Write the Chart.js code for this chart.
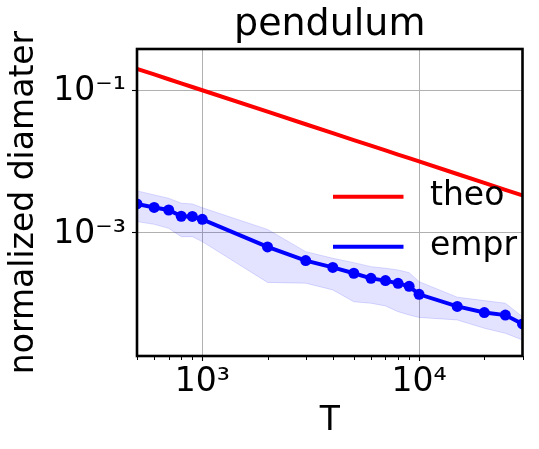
<!DOCTYPE html>
<html><head><meta charset="utf-8">
<script src="https://cdn.jsdelivr.net/npm/chart.js@4.4.1/dist/chart.umd.min.js"></script>
<style>html,body{margin:0;padding:0;background:#fff;}</style>
</head><body>
<canvas id="c" width="539" height="449"></canvas>
<script>
// ---- data ----
const T = [500, 600, 700, 800, 900, 1000, 2000, 3000, 4000, 5000, 6000, 7000, 8000, 9000, 10000, 15000, 20000, 25000, 30000];
const theo = [0.2, 0.1667, 0.1429, 0.125, 0.1111, 0.1, 0.05, 0.0333, 0.025, 0.02, 0.01667, 0.01429, 0.0125, 0.01111, 0.01, 0.00667, 0.005, 0.004, 0.00333];
const empr = [2.53e-3, 2.26e-3, 2.08e-3, 1.70e-3, 1.69e-3, 1.54e-3, 6.3e-4, 4.05e-4, 3.25e-4, 2.69e-4, 2.28e-4, 2.12e-4, 1.94e-4, 1.76e-4, 1.36e-4, 9.2e-5, 7.55e-5, 6.95e-5, 5.22e-5];
const emprUpper = [3.86e-3, 3.39e-3, 3.04e-3, 2.59e-3, 2.53e-3, 2.24e-3, 1.11e-3, 5.41e-4, 4.37e-4, 3.79e-4, 3.33e-4, 3.16e-4, 2.99e-4, 2.74e-4, 2.05e-4, 1.24e-4, 1.11e-4, 1.02e-4, 6.6e-5];
const emprLower = [1.43e-3, 1.31e-3, 1.15e-3, 8.79e-4, 8.79e-4, 7.48e-4, 2.0e-4, 1.95e-4, 1.57e-4, 1.07e-4, 1.02e-4, 9.35e-5, 7.77e-5, 6.98e-5, 6.44e-5, 5.94e-5, 4.54e-5, 3.86e-5, 3.11e-5];
const seriesLabels = ['theo', 'empr'];
const xTickValues = [1000, 10000];
const xTickLabels = ['10³', '10⁴'];
const xMinorTicks = [500, 600, 700, 800, 900, 2000, 3000, 4000, 5000, 6000, 7000, 8000, 9000, 20000, 30000];
const yTickValues = [0.001, 0.1];
const yTickLabels = ['10⁻³', '10⁻¹'];
const xRange = [500, 30000];
const yRange = [1.85e-5, 0.38];
const chartTitle = 'pendulum';
const xTitle = 'T';
const yTitle = 'normalized diamater';

// ---- chart ----
const F = "'DejaVu Sans', sans-serif";
const pts = ys => T.map((t, i) => ({x: t, y: ys[i]}));

const decorPlugin = {
  id: 'decor',
  afterDraw(chart) {
    const {ctx, chartArea: a, scales} = chart;
    ctx.save();
    // minor x ticks
    ctx.strokeStyle = '#000';
    ctx.lineWidth = 1;
    xMinorTicks.forEach(v => {
      const px = Math.round(scales.x.getPixelForValue(v)) + 0.5;
      ctx.beginPath();
      ctx.moveTo(px, a.bottom);
      ctx.lineTo(px, a.bottom + 4);
      ctx.stroke();
    });
    // legend (no frame)
    const ds = chart.data.datasets;
    ctx.font = '33px ' + F;
    ctx.textBaseline = 'middle';
    ctx.textAlign = 'left';
    [0, 1].forEach((k, i) => {
      const y = a.top + 147.7 + i * 50;
      ctx.strokeStyle = ds[k].borderColor;
      ctx.lineWidth = 4;
      ctx.beginPath();
      ctx.moveTo(a.right - 189.5, y);
      ctx.lineTo(a.right - 119, y);
      ctx.stroke();
      ctx.fillStyle = '#000';
      ctx.fillText(ds[k].label, a.right - 92.5, y);
    });
    // frame
    ctx.strokeStyle = '#000';
    ctx.lineWidth = 2.6;
    ctx.strokeRect(a.left, a.top, a.right - a.left, a.bottom - a.top);
    ctx.restore();
  }
};

new Chart(document.getElementById('c'), {
  type: 'line',
  data: {
    datasets: [
      {label: seriesLabels[0], data: pts(theo), borderColor: '#ff0000', borderWidth: 4, pointRadius: 0, fill: false, order: 0, clip: 0},
      {label: seriesLabels[1], data: pts(empr), borderColor: '#0000ff', backgroundColor: '#0000ff', borderWidth: 4,
       pointRadius: 5.5, pointBorderWidth: 0, pointBackgroundColor: '#0000ff', fill: false, order: 1, clip: 0},
      {label: 'upper', data: pts(emprUpper), borderColor: 'rgba(0,0,255,0.14)', borderWidth: 1, pointRadius: 0,
       fill: '+1', backgroundColor: 'rgba(0,0,255,0.11)', order: 2, clip: 0},
      {label: 'lower', data: pts(emprLower), borderColor: 'rgba(0,0,255,0.14)', borderWidth: 1, pointRadius: 0,
       fill: false, order: 3, clip: 0}
    ]
  },
  options: {
    responsive: false,
    animation: false,
    events: [],
    layout: {padding: {left: 0, right: 16.5, top: 0, bottom: 0}},
    plugins: {
      legend: {display: false},
      tooltip: {enabled: false},
      title: {display: true, text: chartTitle, fullSize: false, color: '#000',
              font: {family: F, size: 38, weight: 'normal', lineHeight: 1.2}, padding: {top: 2, bottom: 1.4}}
    },
    scales: {
      x: {
        type: 'logarithmic', position: 'bottom', min: xRange[0], max: xRange[1],
        afterBuildTicks: s => { s.ticks = xTickValues.map(v => ({value: v})); },
        afterFit: s => { s.height = 93; },
        ticks: {callback: v => xTickLabels[xTickValues.indexOf(v)], color: '#000',
                font: {family: F, size: 33}, padding: 2, maxRotation: 0, autoSkip: false},
        grid: {color: '#b0b0b0', lineWidth: 1, drawTicks: true, tickLength: 5, tickColor: '#000', tickWidth: 1.1},
        border: {display: false},
        title: {display: true, text: xTitle, color: '#000', font: {family: F, size: 33}, padding: {top: 0, bottom: 7.7}}
      },
      y: {
        type: 'logarithmic', position: 'left', min: yRange[0], max: yRange[1],
        afterBuildTicks: s => { s.ticks = yTickValues.map(v => ({value: v})); },
        afterFit: s => { s.width = 137; },
        ticks: {callback: v => yTickLabels[yTickValues.indexOf(v)], color: '#000',
                font: {family: F, size: 33}, padding: 6, labelOffset: 1.5, autoSkip: false},
        grid: {color: '#b0b0b0', lineWidth: 1, drawTicks: true, tickLength: 5, tickColor: '#000', tickWidth: 1.1},
        border: {display: false},
        title: {display: true, text: yTitle, color: '#000', font: {family: F, size: 33}, padding: {top: 5, bottom: 0}}
      }
    }
  },
  plugins: [decorPlugin]
});
</script>
</body></html>
